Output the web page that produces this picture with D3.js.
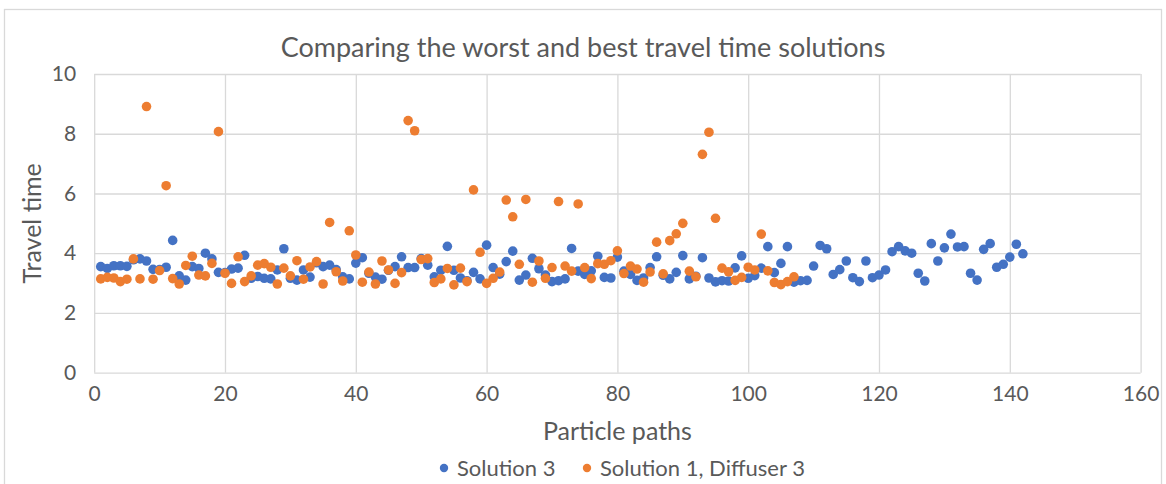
<!DOCTYPE html>
<html>
<head>
<meta charset="utf-8">
<script src="https://cdn.jsdelivr.net/npm/d3@7"></script>
<style>
    body { margin: 0; background: #fff; }
    text { font-family: Lato, "Open Sans", sans-serif; fill: #595959; }
</style>
</head>
<body>
<div class="main"></div>
<script>
// travel time per particle path
var solution3 = [
    3.55, 3.49, 3.58, 3.58, 3.56, 3.78, 3.81, 3.74, 3.46, 3.45, 3.53, 4.43, 3.24, 3.10, 3.55, 3.49, 4.00, 3.81, 3.36, 3.35, 3.47, 3.50, 3.93,
    3.16, 3.22, 3.16, 3.14, 3.44, 4.15, 3.16, 3.10, 3.44, 3.20, 3.68, 3.55,
    3.60, 3.45, 3.21, 3.14, 3.67, 3.85, 3.33, 3.20, 3.13, 3.43, 3.55, 3.88,
    3.52, 3.52, 3.82, 3.60, 3.21, 3.43, 4.23, 3.43,
    3.17, 3.08, 3.36, 3.14, 4.27, 3.52, 3.30, 3.72, 4.07, 3.10, 3.27, 3.83, 3.48, 3.27, 3.05, 3.08, 3.14,
    4.16, 3.40, 3.29, 3.41, 3.90, 3.19, 3.17, 3.87, 3.40, 3.29, 3.09, 3.17, 3.52, 3.88, 3.26, 3.14, 3.36, 3.92, 3.14, 3.23, 3.85,
    3.17, 3.04, 3.08, 3.07, 3.51, 3.91, 3.16, 3.25, 3.50, 4.22, 3.35, 3.66, 4.22, 3.03, 3.08, 3.09,
    3.57, 4.26, 4.15, 3.29, 3.45, 3.74, 3.18, 3.05, 3.74, 3.18, 3.27, 3.44, 4.05, 4.22, 4.08, 4.00, 3.33,
    3.07, 4.32, 3.74, 4.18, 4.64, 4.21, 4.22, 3.33, 3.10, 4.13, 4.32, 3.53, 3.63, 3.87, 4.30, 3.98
];

var solution1Diffuser3 = [
    3.14, 3.19, 3.17, 3.05, 3.13, 3.81, 3.14, 8.91, 3.13, 3.42, 6.26, 3.15, 2.97, 3.59, 3.90, 3.27, 3.24, 3.66, 8.07, 3.33, 2.99, 3.88, 3.05,
    3.24, 3.60, 3.65, 3.53, 2.97, 3.50, 3.24, 3.75, 3.13, 3.54, 3.72, 2.97,
    5.03, 3.38, 3.07, 4.75, 3.94, 3.03, 3.37, 2.97, 3.74, 3.44, 2.99, 3.35,
    8.44, 8.10, 3.79, 3.82, 3.02, 3.14, 3.49, 2.94,
    3.50, 3.05, 6.12, 4.03, 2.99, 3.16, 3.37, 5.78, 5.22, 3.63, 5.80, 3.03, 3.74, 3.16, 3.52, 5.73, 3.57,
    3.40, 5.65, 3.52, 3.15, 3.65, 3.63, 3.75, 4.08, 3.32, 3.57, 3.47, 3.03, 3.37, 4.37, 3.31, 4.42, 4.65, 5.00, 3.40, 3.21, 7.31,
    8.05, 5.17, 3.50, 3.38, 3.09, 3.19, 3.53, 3.44, 4.64, 3.41, 3.02, 2.95, 3.05, 3.21
];

var seriesNames = ['Solution 3', 'Solution 1, Diffuser 3'];
var seriesColors = ['#4472C4', '#ED7D31'];
var xTicks = [0, 20, 40, 60, 80, 100, 120, 140, 160];
var yTicks = [0, 2, 4, 6, 8, 10];

var width = 1166, height = 484;
var plotLeft = 94.2, plotRight = 1140.6, plotTop = 74, plotBottom = 372.7;

var svg = d3.select('.main')
    .append('svg')
    .attr('width', width)
    .attr('height', height);

// chart frame
svg.append('rect')
    .attr('x', 4.5)
    .attr('y', 9.5)
    .attr('width', 1157)
    .attr('height', 520)
    .style('fill', '#fff')
    .style('stroke', '#d9d9d9')
    .style('stroke-width', '1.3px');

var x = d3.scaleLinear().domain([0, 160]).range([plotLeft, plotRight]);
var y = d3.scaleLinear().domain([0, 10]).range([plotBottom, plotTop]);

// x axis + vertical gridlines
var gx = svg.append('g')
    .attr('transform', 'translate(' + [0, plotBottom] + ')')
    .call(d3.axisBottom(x).tickValues(xTicks).tickSize(-(plotBottom - plotTop)).tickPadding(13));

// y axis + horizontal gridlines
var gy = svg.append('g')
    .attr('transform', 'translate(' + [plotLeft, 0] + ')')
    .call(d3.axisLeft(y).tickValues(yTicks).tickSize(-(plotRight - plotLeft)).tickPadding(18));

[gx, gy].forEach(function (g) {
    g.select('.domain').remove();
    g.selectAll('line')
        .style('stroke', '#d9d9d9')
        .style('stroke-width', '1.3px');
    g.selectAll('text')
        .style('font-family', 'Lato, sans-serif')
        .style('font-size', '21px')
        .style('fill', '#595959');
});

var series = [solution3, solution1Diffuser3];

series.forEach(function (values, s) {
    svg.append('g')
        .selectAll('.pt' + s)
        .data(values)
        .enter()
        .append('circle')
        .attr('class', 'pt' + s)
        .attr('cx', function (d, i) { return x(i + 1); })
        .attr('cy', function (d) { return y(d); })
        .attr('r', 4.8)
        .style('fill', seriesColors[s]);
});

svg.append('text')
    .text('Comparing the worst and best travel time solutions')
    .attr('x', 583)
    .attr('y', 57)
    .attr('text-anchor', 'middle')
    .style('font-size', '27px');

svg.append('text')
    .text('Particle paths')
    .attr('x', (plotLeft + plotRight) / 2)
    .attr('y', 440)
    .attr('text-anchor', 'middle')
    .style('font-size', '25px');

svg.append('text')
    .text('Travel time')
    .attr('transform', 'translate(' + [41, (plotTop + plotBottom) / 2] + ') rotate(-90)')
    .attr('text-anchor', 'middle')
    .style('font-size', '25px');

// legend
var legendX = [444, 587];
var legend = svg.selectAll('.legend')
    .data(seriesNames)
    .enter()
    .append('g')
    .attr('class', 'legend')
    .attr('transform', function (d, i) {
        return 'translate(' + [legendX[i], 468] + ')';
    });

legend.append('circle')
    .attr('r', 4.2)
    .style('fill', function (d, i) { return seriesColors[i]; });

legend.append('text')
    .text(function (d) { return d; })
    .attr('x', 13)
    .attr('y', 8)
    .style('font-size', '22px');
</script>
</body>
</html>
